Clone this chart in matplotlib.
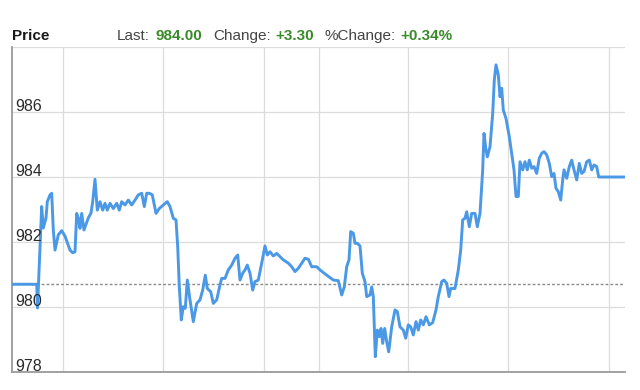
import matplotlib
matplotlib.use("Agg")
import matplotlib.pyplot as plt
from matplotlib import font_manager

# intraday price trace (time in minutes since open, price)
times = [
    0, 24.7, 25.5, 29.7, 31.3, 34.0, 35.3, 38.0, 39.7, 41.3,
    43.0, 46.3, 49.7, 53.0, 58.0, 60.7, 63.0, 64.7, 66.3, 68.0,
    69.7, 72.0, 76.3, 79.0, 80.7, 83.0, 85.3, 88.0, 90.7, 93.0,
    95.3, 98.0, 101.3, 104.7, 107.3, 109.7, 113.0, 116.3, 119.7, 123.0,
    126.3, 129.7, 132.3, 134.7, 137.3, 140.3, 144.0, 147.3, 151.3, 155.3,
    158.0, 161.3, 164.0, 165.7, 167.3, 169.3, 171.3, 173.3, 175.3, 178.0,
    181.3, 184.7, 188.0, 190.7, 193.3, 195.3, 198.7, 201.3, 204.7, 208.0,
    209.7, 213.0, 216.3, 219.7, 223.0, 225.7, 228.0, 230.7, 233.0, 235.3,
    238.0, 240.7, 243.0, 246.3, 249.7, 253.0, 255.3, 258.0, 261.3, 264.7,
    268.0, 271.3, 276.3, 279.7, 283.0, 286.3, 289.7, 293.0, 296.3, 299.7,
    304.7, 308.0, 314.7, 321.3, 326.3, 329.7, 332.3, 334.7, 337.0, 338.7,
    341.3, 343.0, 345.3, 348.0, 350.3, 353.0, 354.7, 358.0, 359.7, 361.3,
    363.3, 365.3, 367.3, 369.0, 370.7, 372.7, 374.7, 376.7, 379.7, 383.0,
    385.3, 388.0, 391.3, 393.7, 396.3, 398.7, 401.3, 404.0, 406.3, 408.7,
    411.3, 414.0, 417.3, 420.7, 424.0, 426.3, 429.7, 432.0, 434.7, 437.0,
    438.7, 443.0, 446.3, 448.7, 450.7, 453.0, 454.7, 457.3, 459.7, 463.0,
    465.3, 468.0, 470.7, 472.0, 474.0, 475.3, 478.0, 480.7, 482.3, 484.0,
    486.3, 488.0, 489.7, 491.3, 494.0, 497.3, 499.7, 502.0, 504.0, 506.3,
    508.0, 510.7, 513.0, 515.3, 517.3, 519.7, 522.0, 524.7, 527.3, 529.7,
    532.0, 534.7, 537.3, 539.7, 542.0, 544.0, 546.3, 548.7, 550.7, 552.0,
    554.7, 557.3, 559.7, 562.0, 564.7, 567.3, 569.7, 572.0, 574.7, 577.3,
    579.7, 582.0, 584.7, 586.7, 613.0,
]
prices = [
    980.70, 980.70, 979.97, 983.09, 982.43, 982.74, 983.24, 983.45, 983.50, 982.37,
    981.75, 982.22, 982.35, 982.18, 981.75, 981.67, 981.70, 982.88, 982.73, 982.42,
    982.88, 982.37, 982.74, 982.89, 983.24, 983.93, 982.98, 983.24, 982.98, 983.19,
    982.98, 983.19, 983.03, 983.19, 982.98, 983.24, 983.14, 983.29, 983.14, 983.29,
    983.45, 983.50, 983.09, 983.50, 983.50, 983.45, 982.88, 983.03, 983.14, 983.24,
    983.09, 982.73, 982.68, 981.86, 980.63, 979.60, 980.01, 979.96, 980.83, 980.22,
    979.55, 980.11, 980.22, 980.52, 980.98, 980.57, 980.47, 980.11, 980.22, 980.68,
    980.88, 980.88, 981.14, 981.29, 981.50, 981.60, 980.83, 981.04, 981.14, 981.29,
    981.04, 980.52, 980.78, 980.83, 981.35, 981.88, 981.60, 981.70, 981.57, 981.65,
    981.55, 981.45, 981.35, 981.24, 981.09, 981.19, 981.35, 981.50, 981.47, 981.24,
    981.24, 981.14, 980.98, 980.83, 980.81, 980.37, 980.62, 981.24, 981.45, 982.32,
    982.27, 981.96, 981.96, 981.88, 981.04, 980.78, 980.32, 980.37, 980.62, 980.32,
    978.47, 979.29, 979.09, 979.34, 978.88, 979.34, 978.93, 978.62, 979.39, 979.91,
    979.86, 979.39, 979.29, 979.04, 979.45, 979.39, 979.14, 979.55, 979.29, 979.60,
    979.45, 979.70, 979.45, 979.52, 979.91, 980.32, 980.78, 980.83, 980.73, 980.32,
    980.57, 980.57, 981.14, 981.75, 982.68, 982.73, 982.93, 982.47, 982.88, 982.88,
    982.47, 982.88, 984.22, 985.34, 984.83, 984.62, 984.93, 985.96, 986.98, 987.45,
    987.14, 986.47, 986.73, 986.06, 985.80, 985.24, 984.73, 984.22, 983.40, 983.40,
    984.47, 984.22, 984.47, 984.22, 984.52, 984.27, 984.32, 984.11, 984.58, 984.73,
    984.78, 984.68, 984.42, 984.01, 984.11, 983.65, 983.55, 983.29, 983.91, 984.22,
    983.96, 984.32, 984.52, 984.22, 983.91, 984.42, 984.11, 984.17, 984.47, 984.52,
    984.22, 984.37, 984.32, 984.00, 984.00,
]
prev_close = 980.70
y_ticks = [978, 980, 982, 984, 986, 988]
x_grid = [51, 151, 252, 307, 396, 496, 597]
header = [("Last:", False), ("984.00", True), ("Change:", False), ("+3.30", True),
          ("%Change:", False), ("+0.34%", True)]

names = {f.name for f in font_manager.fontManager.ttflist}
if "Liberation Sans Narrow" in names:
    fam, fs = "Liberation Sans Narrow", 14
else:
    fam, fs = "Liberation Sans", 11
plt.rcParams["font.family"] = [fam, "DejaVu Sans"]

fig = plt.figure(figsize=(6.4, 3.9), dpi=100)
ax = fig.add_axes([12 / 640, 18 / 390, 613 / 640, 325 / 390])

ax.plot(times, prices, color="#4a98e6", lw=2.1, solid_joinstyle="round", zorder=3)
ax.axhline(prev_close, color="#8a8a8a", lw=1.0, ls=(0, (2, 1.5)), zorder=2)

ax.set_xlim(0, 613)
ax.set_ylim(978, 988)
ax.set_yticks(y_ticks)
ax.set_xticks(x_grid)
ax.tick_params(length=0, labelleft=False, labelbottom=False)
ax.grid(True, color="#dcdcdc", lw=0.9)
ax.set_axisbelow(True)
for s in ["top", "right"]:
    ax.spines[s].set_visible(False)
for s in ["left", "bottom"]:
    ax.spines[s].set_color("#9a9a9a")
    ax.spines[s].set_linewidth(1.3)

for v in y_ticks[:-1]:
    ax.annotate(str(v), xy=(0, v), xycoords=("axes fraction", "data"),
                xytext=(2.5, 1), textcoords="offset points",
                va="baseline", ha="left", fontsize=fs + 0.5, color="#2a2a2a", zorder=4)

base_y = (390 - 40) / 390
fig.text(12 / 640, base_y, "Price", fontsize=fs, fontweight="bold",
         color="#1a1a1a", va="baseline")
anchor = fig.text(117 / 640, base_y, header[0][0], fontsize=fs,
                  color="#444444", va="baseline")

# chain the header pieces one after another
gaps = [4, 8, 3, 8, 3]
for (txt, bold), gap in zip(header[1:], gaps):
    anchor = ax.annotate(txt, xy=(1, 0), xycoords=anchor, xytext=(gap, 0),
                         textcoords="offset points", va="bottom", ha="left",
                         fontsize=fs, fontweight="bold" if bold else "normal",
                         color="#3a8a2a" if bold else "#444444",
                         annotation_clip=False)

fig.savefig("out.png", dpi=100)
